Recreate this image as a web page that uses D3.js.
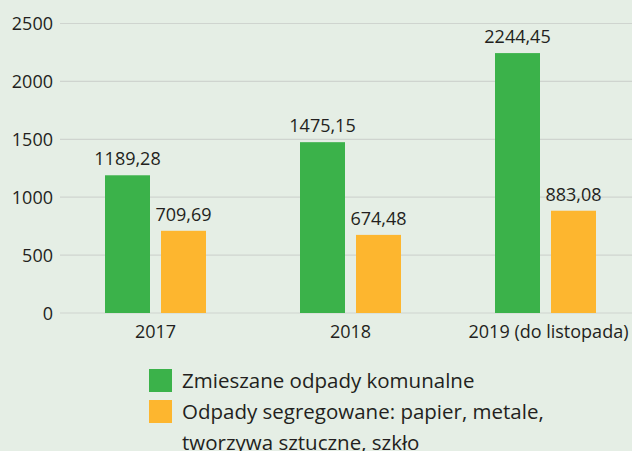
<!DOCTYPE html>
<html>
<head>
<meta charset="utf-8">
<script src="https://cdn.jsdelivr.net/npm/d3@7"></script>
<style>
  html, body { margin: 0; padding: 0; background: #e5eee5; }
  svg { display: block; font-family: "Open Sans", sans-serif; }
</style>
</head>
<body>
<div id="chart"></div>
<script>
const years = ["2017", "2018", "2019 (do listopada)"];
const mixedWaste = [1189.28, 1475.15, 2244.45];
const sortedWaste = [709.69, 674.48, 883.08];
const yTicks = [0, 500, 1000, 1500, 2000, 2500];
const seriesNames = ["Zmieszane odpady komunalne", "Odpady segregowane: papier, metale,", "tworzywa sztuczne, szkło"];

const WIDTH = 632, HEIGHT = 451;
const LEFT = 60, TOP = 23.5, BOTTOM = 313;
const colors = ["#3bb24a", "#fdb62f"];
const textColor = "#231f20";

const svg = d3.select("#chart").append("svg")
  .attr("width", WIDTH).attr("height", HEIGHT);

const y = d3.scaleLinear().domain([0, 2500]).range([BOTTOM, TOP]);
const x = d3.scaleBand().domain(years).range([58, 643]);
// two bars of 45px with an 11px gap
const xSub = d3.scaleBand().domain([0, 1]).range([0, 101]).paddingInner(11 / 56);

// grid
svg.append("g")
  .selectAll("line")
  .data(yTicks)
  .join("line")
  .attr("x1", LEFT).attr("x2", WIDTH)
  .attr("y1", d => y(d)).attr("y2", d => y(d))
  .attr("stroke", "#cfd4cf").attr("stroke-width", 1.2);

// y labels
svg.append("g")
  .selectAll("text")
  .data(yTicks)
  .join("text")
  .attr("x", 53).attr("y", d => y(d) + 6.5)
  .attr("text-anchor", "end")
  .attr("font-size", 18)
  .attr("fill", textColor)
  .text(d => d);

const groups = svg.append("g")
  .selectAll("g")
  .data(years)
  .join("g")
  .attr("transform", d => `translate(${x(d) + x.bandwidth() / 2 - 50.5},0)`);

const vals = (d, i) => [mixedWaste[i], sortedWaste[i]];

groups.selectAll("rect")
  .data(vals)
  .join("rect")
  .attr("x", (d, j) => xSub(j))
  .attr("width", xSub.bandwidth())
  .attr("y", d => y(d))
  .attr("height", d => BOTTOM - y(d))
  .attr("fill", (d, j) => colors[j]);

groups.selectAll("text.val")
  .data(vals)
  .join("text")
  .attr("class", "val")
  .attr("x", (d, j) => xSub(j) + xSub.bandwidth() / 2)
  .attr("y", d => y(d) - 10)
  .attr("text-anchor", "middle")
  .attr("font-size", 18)
  .attr("fill", textColor)
  .text(d => d3.format(".2f")(d).replace(".", ","));

// x labels
svg.append("g")
  .selectAll("text")
  .data(years)
  .join("text")
  .attr("x", (d, i) => x(d) + x.bandwidth() / 2 + (i === 2 ? 3 : 0))
  .attr("y", 338)
  .attr("text-anchor", "middle")
  .attr("font-size", 18)
  .attr("fill", textColor)
  .text(d => d);

// legend
const legend = svg.append("g");
legend.selectAll("rect")
  .data(colors)
  .join("rect")
  .attr("x", 149).attr("y", (d, i) => 369 + i * 31)
  .attr("width", 23).attr("height", 23)
  .attr("fill", d => d);

legend.selectAll("text")
  .data(seriesNames)
  .join("text")
  .attr("x", 182).attr("y", (d, i) => 388 + i * 31)
  .attr("font-size", 20.5)
  .attr("fill", textColor)
  .text(d => d);
</script>
</body>
</html>
